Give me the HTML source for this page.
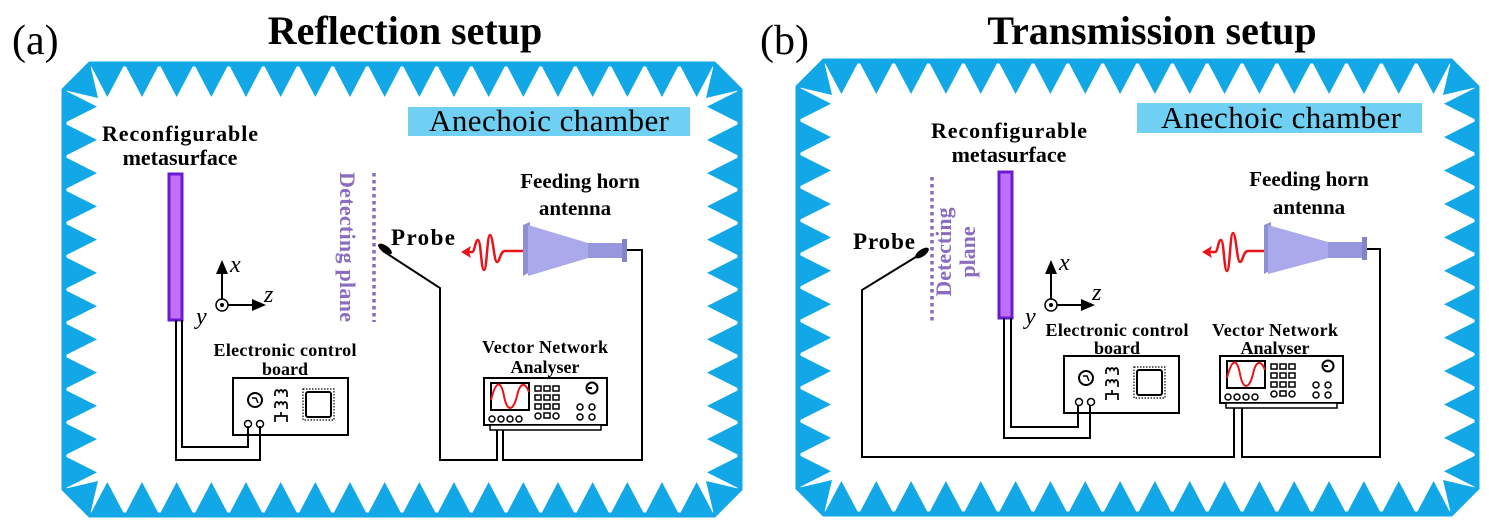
<!DOCTYPE html>
<html><head><meta charset="utf-8"><style>
html,body{margin:0;padding:0;background:#fff;}
svg{display:block;}
text{font-family:"Liberation Serif",serif;}
.b{font-weight:bold;}
</style></head><body>
<svg id="s" width="1489" height="529" viewBox="0 0 1489 529" xmlns="http://www.w3.org/2000/svg">
<g id="frames"></g>

<!-- Titles -->
<text x="12" y="54" font-size="42">(a)</text>
<text x="405" y="44" font-size="40" class="b" text-anchor="middle">Reflection setup</text>
<text x="760" y="54" font-size="42">(b)</text>
<text x="1152" y="44" font-size="40" class="b" text-anchor="middle">Transmission setup</text>

<!-- ===== Panel A ===== -->
<rect x="408" y="107" width="282" height="29" fill="#6fd0f3"/>
<text x="549" y="131" font-size="31" text-anchor="middle" textLength="240">Anechoic chamber</text>
<text x="180" y="141" font-size="22" class="b" text-anchor="middle" textLength="156">Reconfigurable</text>
<text x="180" y="165" font-size="22" class="b" text-anchor="middle">metasurface</text>
<rect x="169" y="174" width="13" height="146" fill="#c070f8" stroke="#6a1bd0" stroke-width="3"/>
<g stroke="#000" stroke-width="2" fill="#000">
<line x1="222" y1="305" x2="222" y2="272"/>
<polygon points="216,274 228,274 222,260" stroke="none"/>
<line x1="222" y1="305" x2="254" y2="305"/>
<polygon points="252,299 252,311 266,305" stroke="none"/>
</g>
<circle cx="222" cy="305" r="6" fill="#fff" stroke="#000" stroke-width="1.5"/>
<circle cx="222" cy="305" r="2" fill="#000"/>
<text x="230" y="272" font-size="24" font-style="italic">x</text>
<text x="264" y="302" font-size="24" font-style="italic">z</text>
<text x="196" y="324" font-size="24" font-style="italic">y</text>
<line x1="374" y1="173" x2="374" y2="322" stroke="#8a6cc0" stroke-width="3.5" stroke-dasharray="3.5,3.5"/>
<text transform="translate(340,247) rotate(90)" font-size="22" class="b" fill="#8a6cc0" text-anchor="middle" textLength="150">Detecting plane</text>
<text x="391" y="245" font-size="23" class="b" textLength="64">Probe</text>
<polyline points="383,251 440,288 440,460 497,460 497,428" fill="none" stroke="#000" stroke-width="2"/>
<ellipse cx="385" cy="249" rx="8" ry="3.5" transform="rotate(35 385 249)" fill="#000"/>
<text x="580" y="188" font-size="21" class="b" text-anchor="middle">Feeding horn</text>
<text x="575" y="215" font-size="21" class="b" text-anchor="middle">antenna</text>
<polygon points="523,225 530,222 530,272 523,276" fill="#8f8fd6"/>
<polygon points="528,225 588,243 588,258 528,276" fill="#a9a9ec"/>
<rect x="588" y="243" width="34" height="15" fill="#9797de"/>
<rect x="622" y="239" width="5" height="23" fill="#8383cc"/>
<polyline points="627,250 642,250 642,460 503,460 503,428" fill="none" stroke="#000" stroke-width="2"/>
<path d="M523,251 L505,251 C500,251 500,262 497,262 C494,262 493,235 490,235 C487,235 487,270 484,270 C481,270 481,240 478,240 C475,240 475,252 472,252 L466,252" fill="none" stroke="#e8141b" stroke-width="2.5"/>
<polygon points="461,252 471,246 469,252 471,258" fill="#e8141b"/>
<text x="285" y="356" font-size="18" class="b" text-anchor="middle" textLength="143">Electronic control</text>
<text x="285" y="375" font-size="18" class="b" text-anchor="middle">board</text>
<g id="ecbA" transform="translate(233,378)">
<rect x="0" y="0" width="115" height="57" fill="#fff" stroke="#000" stroke-width="2"/>
<circle cx="22" cy="22" r="7" fill="none" stroke="#000" stroke-width="2"/>
<path d="M19,20 L23,20 L25,25" fill="none" stroke="#000" stroke-width="1.5"/>
<path d="M42,14 q2,-4 4,0 q2,-4 4,0 q2,-4 4,0 v5 M42,14 v4 M42,26 q2,-4 4,0 q2,-4 4,0 q2,-4 4,0 v5 M42,26 v4 M42,44 v-6 h12 v6 M48,38 v-4" fill="none" stroke="#000" stroke-width="1.7"/>
<rect x="73" y="14" width="25" height="25" rx="2" fill="none" stroke="#000" stroke-width="2"/>
<rect x="70" y="11" width="31" height="31" fill="none" stroke="#000" stroke-width="1.2" stroke-dasharray="1.5,1.5"/>
<circle cx="15" cy="46" r="3.5" fill="none" stroke="#000" stroke-width="1.5"/>
<circle cx="27" cy="46" r="3.5" fill="none" stroke="#000" stroke-width="1.5"/>
</g>
<polyline points="176,320 176,460 260,460 260,426" fill="none" stroke="#000" stroke-width="2"/>
<polyline points="182,320 182,447 248,447 248,426" fill="none" stroke="#000" stroke-width="2"/>
<text x="545" y="353" font-size="18" class="b" text-anchor="middle" textLength="126">Vector Network</text>
<text x="545" y="373" font-size="18" class="b" text-anchor="middle">Analyser</text>
<g id="vnaA" transform="translate(484,378)">
<rect x="0" y="0" width="123" height="47" fill="#fff" stroke="#000" stroke-width="2"/>
<rect x="6" y="47" width="111" height="5" fill="#fff" stroke="#000" stroke-width="1.5"/>
<rect x="7" y="5" width="38" height="27" fill="#fff" stroke="#000" stroke-width="2"/>
<path d="M7,22 C12,2 17,2 20,18 C23,34 29,34 33,18 C36,4 41,4 45,14" fill="none" stroke="#e8141b" stroke-width="2"/>
<g fill="none" stroke="#000" stroke-width="1.5">
<rect x="51" y="8" width="6" height="5"/><rect x="60" y="8" width="6" height="5"/><rect x="69" y="8" width="6" height="5"/>
<rect x="51" y="17" width="6" height="5"/><rect x="60" y="17" width="6" height="5"/><rect x="69" y="17" width="6" height="5"/>
<rect x="51" y="26" width="6" height="5"/><rect x="60" y="26" width="6" height="5"/><rect x="69" y="26" width="6" height="5"/>
<circle cx="54" cy="38" r="3"/><rect x="60" y="35" width="6" height="5"/><circle cx="72" cy="38" r="3"/>
<circle cx="108" cy="10" r="5.5" stroke-width="2"/>
<circle cx="96" cy="29" r="3"/><circle cx="108" cy="29" r="3"/>
<circle cx="96" cy="39" r="3"/><circle cx="108" cy="39" r="3"/>
<circle cx="8" cy="41" r="3"/><circle cx="17" cy="41" r="3"/><circle cx="26" cy="41" r="3"/><circle cx="35" cy="41" r="3"/>
</g>
<line x1="108" y1="10" x2="104" y2="10" stroke="#000" stroke-width="2"/>
</g>

<!-- ===== Panel B ===== -->
<rect x="1137" y="103" width="285" height="30" fill="#6fd0f3"/>
<text x="1281" y="128" font-size="31" text-anchor="middle" textLength="240">Anechoic chamber</text>
<text x="1009" y="138" font-size="22" class="b" text-anchor="middle" textLength="156">Reconfigurable</text>
<text x="1009" y="162" font-size="22" class="b" text-anchor="middle">metasurface</text>
<rect x="999" y="172" width="13" height="146" fill="#c070f8" stroke="#6a1bd0" stroke-width="3"/>
<g stroke="#000" stroke-width="2" fill="#000">
<line x1="1051" y1="305" x2="1051" y2="272"/>
<polygon points="1045,274 1057,274 1051,260" stroke="none"/>
<line x1="1051" y1="305" x2="1083" y2="305"/>
<polygon points="1081,299 1081,311 1095,305" stroke="none"/>
</g>
<circle cx="1051" cy="305" r="6" fill="#fff" stroke="#000" stroke-width="1.5"/>
<circle cx="1051" cy="305" r="2" fill="#000"/>
<text x="1059" y="270" font-size="24" font-style="italic">x</text>
<text x="1092" y="300" font-size="24" font-style="italic">z</text>
<text x="1025" y="324" font-size="24" font-style="italic">y</text>
<line x1="932" y1="177" x2="932" y2="324" stroke="#8a6cc0" stroke-width="3.5" stroke-dasharray="3.5,3.5"/>
<text transform="translate(951,252) rotate(-90)" font-size="22" class="b" fill="#8a6cc0" text-anchor="middle">Detecting</text>
<text transform="translate(975,252) rotate(-90)" font-size="22" class="b" fill="#8a6cc0" text-anchor="middle">plane</text>
<text x="853" y="249" font-size="23" class="b" textLength="62">Probe</text>
<polyline points="924,252 862,290 862,457 1234,457 1234,408" fill="none" stroke="#000" stroke-width="2"/>
<ellipse cx="922" cy="253" rx="8" ry="3.5" transform="rotate(-35 922 253)" fill="#000"/>
<text x="1309" y="186" font-size="21" class="b" text-anchor="middle">Feeding horn</text>
<text x="1309" y="214" font-size="21" class="b" text-anchor="middle">antenna</text>
<polygon points="1264,225 1271,222 1271,270 1264,274" fill="#8f8fd6"/>
<polygon points="1268,225 1328,242 1328,258 1268,274" fill="#a9a9ec"/>
<rect x="1328" y="242" width="34" height="16" fill="#9797de"/>
<rect x="1362" y="237" width="5" height="23" fill="#8383cc"/>
<polyline points="1367,249 1380,249 1380,457 1242,457 1242,408" fill="none" stroke="#000" stroke-width="2"/>
<path d="M1264,251 L1248,251 C1243,251 1243,262 1240,262 C1237,262 1236,233 1233,233 C1230,233 1230,271 1227,271 C1224,271 1224,240 1221,240 C1218,240 1218,252 1215,252 L1209,252" fill="none" stroke="#e8141b" stroke-width="2.5"/>
<polygon points="1202,252 1212,246 1210,252 1212,258" fill="#e8141b"/>
<text x="1117" y="336" font-size="18" class="b" text-anchor="middle" textLength="143">Electronic control</text>
<text x="1117" y="354" font-size="18" class="b" text-anchor="middle">board</text>
<use href="#ecbA" transform="translate(831,-22)"/>
<polyline points="1004,318 1004,438 1090,438 1090,405" fill="none" stroke="#000" stroke-width="2"/>
<polyline points="1011,318 1011,427 1078,427 1078,405" fill="none" stroke="#000" stroke-width="2"/>
<text x="1275" y="336" font-size="18" class="b" text-anchor="middle" textLength="126">Vector Network</text>
<text x="1275" y="354" font-size="18" class="b" text-anchor="middle">Analyser</text>
<use href="#vnaA" transform="translate(736,-22)"/>
</svg>
<script>
(function(){
var NS="http://www.w3.org/2000/svg",g=document.getElementById("frames");
var C="#12a8e8";
function poly(pts){var p=document.createElementNS(NS,"polygon");p.setAttribute("points",pts.map(function(a){return a.join(",")}).join(" "));p.setAttribute("fill",C);g.appendChild(p);}
function frame(X0,Y0,X1,Y1){
 var c=26,d=33;
 var o=[[X0+c,Y0],[X1-c,Y0],[X1,Y0+c],[X1,Y1-c],[X1-c,Y1],[X0+c,Y1],[X0,Y1-c],[X0,Y0+c]];
 var inset=3;
 var p=document.createElementNS(NS,"polygon");p.setAttribute("points",o.map(function(a){return a.join(",")}).join(" "));
 p.setAttribute("fill","none");p.setAttribute("stroke",C);p.setAttribute("stroke-width",5);g.appendChild(p);
 var n=Math.round((X1-X0-2*c)/35),w=(X1-X0-2*c)/n,i,x,y;
 for(i=0;i<n;i++){x=X0+c+i*w;
  poly([[x,Y0],[x+w,Y0],[x+w/2,Y0+d]]);
  poly([[x,Y1],[x+w,Y1],[x+w/2,Y1-d]]);}
 var m=Math.round((Y1-Y0-2*c)/33),h=(Y1-Y0-2*c)/m;
 for(i=0;i<m;i++){y=Y0+c+i*h;
  poly([[X0,y],[X0,y+h],[X0+d,y+h/2]]);
  poly([[X1,y],[X1,y+h],[X1-d,y+h/2]]);}
 poly([[X0+c,Y0],[X0,Y0+c],[X0+c+8,Y0+c+8]]);
 poly([[X1-c,Y0],[X1,Y0+c],[X1-c-8,Y0+c+8]]);
 poly([[X0+c,Y1],[X0,Y1-c],[X0+c+8,Y1-c-8]]);
 poly([[X1-c,Y1],[X1,Y1-c],[X1-c-8,Y1-c-8]]);
}
frame(64,64,740,515);
frame(798,61,1477,514);
})();
</script>
</body></html>
